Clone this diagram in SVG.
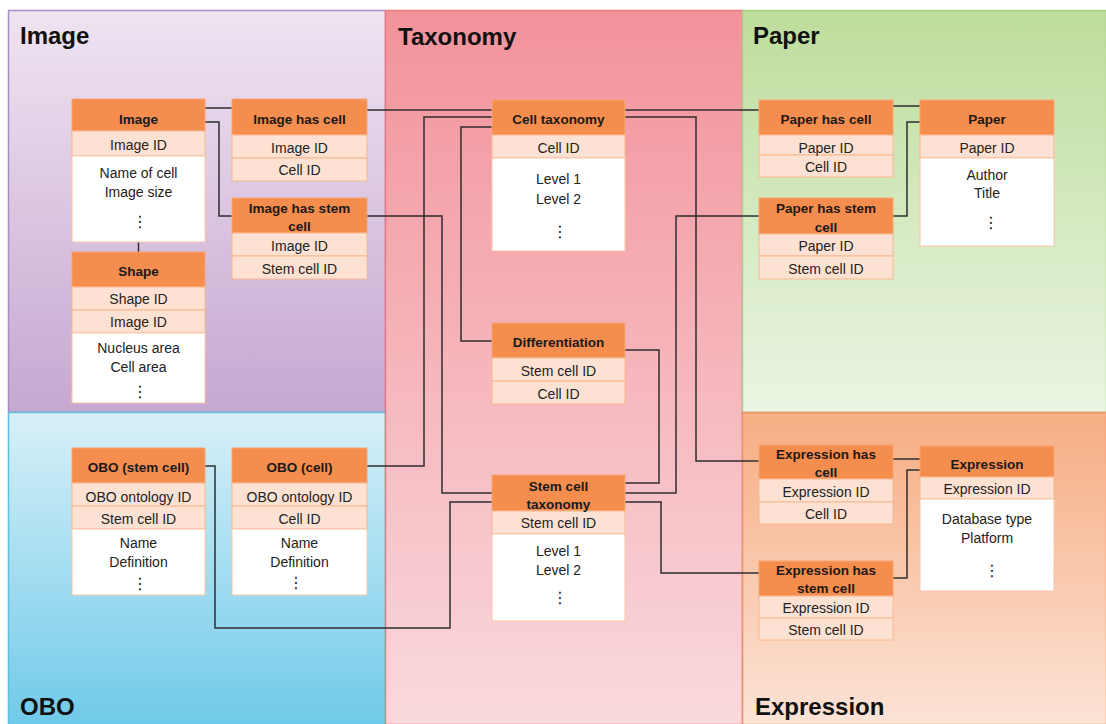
<svg xmlns="http://www.w3.org/2000/svg" width="1106" height="724" viewBox="0 0 1106 724">
<defs>
<linearGradient id="gImg" x1="0" y1="0" x2="0" y2="1"><stop offset="0" stop-color="#efe4f2"/><stop offset="1" stop-color="#c6a7d1"/></linearGradient>
<linearGradient id="gObo" x1="0" y1="0" x2="0" y2="1"><stop offset="0" stop-color="#d8f0f8"/><stop offset="1" stop-color="#70cae9"/></linearGradient>
<linearGradient id="gTax" x1="0" y1="0" x2="0" y2="1"><stop offset="0" stop-color="#f3929b"/><stop offset="1" stop-color="#f9d9dd"/></linearGradient>
<linearGradient id="gPap" x1="0" y1="0" x2="0" y2="1"><stop offset="0" stop-color="#bddd9b"/><stop offset="1" stop-color="#ebf5e4"/></linearGradient>
<linearGradient id="gExp" x1="0" y1="0" x2="0" y2="1"><stop offset="0" stop-color="#f6ad82"/><stop offset="1" stop-color="#fce3d6"/></linearGradient>
</defs>
<style>
.title{font-family:"Liberation Sans",Arial,sans-serif;font-weight:bold;font-size:24px;fill:#111}
.hd{fill:#f48d4e;stroke:#f7a572;stroke-width:1}
.fd{fill:#fde2d3;stroke:#f8b88e;stroke-width:1}
.bd{fill:#ffffff;stroke:#f9c6a6;stroke-width:1}
.ht{font-family:"Liberation Sans",Arial,sans-serif;font-weight:bold;font-size:13.5px;fill:#1a1a1a;text-anchor:middle}
.ft{font-family:"Liberation Sans",Arial,sans-serif;font-size:14px;fill:#222;text-anchor:middle}
.dt{font-family:"DejaVu Sans",sans-serif;font-size:16px;fill:#222;text-anchor:middle}
.cn{fill:none;stroke:#2e2e2e;stroke-width:1.5}
</style>
<rect x="0" y="0" width="1106" height="724" fill="#ffffff"/>
<g id="regions">
<rect x="8.5" y="10.5" width="377" height="402" fill="url(#gImg)" stroke="#a98bc6" stroke-width="1.5"/>
<rect x="8.5" y="412.5" width="377" height="312" fill="url(#gObo)" stroke="#5fbfe0" stroke-width="1.5"/>
<rect x="385.5" y="10.5" width="357" height="714" fill="url(#gTax)" stroke="#ea7a80" stroke-width="1.5"/>
<rect x="742.5" y="10.5" width="364" height="402" fill="url(#gPap)" stroke="#a9d08a" stroke-width="1.5"/>
<rect x="742.5" y="412.5" width="364" height="312" fill="url(#gExp)" stroke="#ef9068" stroke-width="1.5"/>
<text class="title" x="20" y="44">Image</text>
<text class="title" x="398" y="45">Taxonomy</text>
<text class="title" x="753" y="44">Paper</text>
<text class="title" x="20" y="715">OBO</text>
<text class="title" x="755" y="715">Expression</text>
</g>
<g id="connectors">
<path class="cn" d="M205,108 H232"/>
<path class="cn" d="M205,122 H219 V216 H232"/>
<path class="cn" d="M138.5,242 V252"/>
<path class="cn" d="M367,110 H492"/>
<path class="cn" d="M625,110 H760"/>
<path class="cn" d="M367,466 H424 V117 H492"/>
<path class="cn" d="M492,127 H461 V341 H492"/>
<path class="cn" d="M367,216 H442 V493 H492"/>
<path class="cn" d="M205,466 H215 V628 H450 V502 H492"/>
<path class="cn" d="M625,117 H696 V461 H760"/>
<path class="cn" d="M625,493 H676 V216 H760"/>
<path class="cn" d="M625,350 H659 V483 H625"/>
<path class="cn" d="M625,502 H661 V573 H760"/>
<path class="cn" d="M893,106 H920"/>
<path class="cn" d="M893,216 H907 V122 H920"/>
<path class="cn" d="M893,459 H920"/>
<path class="cn" d="M893,578 H907 V470 H920"/>
</g>
<g id="node-image">
<rect class="hd" x="72" y="99" width="133" height="32"/>
<rect class="fd" x="72" y="131" width="133" height="25"/>
<rect class="bd" x="72" y="156" width="133" height="86"/>
<text class="ht" x="138.5" y="124">Image</text>
<text class="ft" x="138.5" y="150">Image ID</text>
<text class="ft" x="138.5" y="178">Name of cell</text>
<text class="ft" x="138.5" y="197">Image size</text>
<text class="dt" x="140" y="227">⋮</text>
</g>
<g id="node-shape">
<rect class="hd" x="72" y="252" width="133" height="35"/>
<rect class="fd" x="72" y="287" width="133" height="23"/>
<rect class="fd" x="72" y="310" width="133" height="23"/>
<rect class="bd" x="72" y="333" width="133" height="70"/>
<text class="ht" x="138.5" y="276">Shape</text>
<text class="ft" x="138.5" y="304">Shape ID</text>
<text class="ft" x="138.5" y="327">Image ID</text>
<text class="ft" x="138.5" y="353">Nucleus area</text>
<text class="ft" x="138.5" y="372">Cell area</text>
<text class="dt" x="140" y="397">⋮</text>
</g>
<g id="node-image-has-cell">
<rect class="hd" x="232" y="99" width="135" height="36"/>
<rect class="fd" x="232" y="135" width="135" height="23"/>
<rect class="fd" x="232" y="158" width="135" height="23"/>
<text class="ht" x="299.5" y="124">Image has cell</text>
<text class="ft" x="299.5" y="153">Image ID</text>
<text class="ft" x="299.5" y="175">Cell ID</text>
</g>
<g id="node-image-has-stem-cell">
<rect class="hd" x="232" y="198" width="135" height="35"/>
<rect class="fd" x="232" y="233" width="135" height="23"/>
<rect class="fd" x="232" y="256" width="135" height="23"/>
<text class="ht" x="299.5" y="213">Image has stem</text>
<text class="ht" x="299.5" y="231">cell</text>
<text class="ft" x="299.5" y="251">Image ID</text>
<text class="ft" x="299.5" y="274">Stem cell ID</text>
</g>
<g id="node-cell-taxonomy">
<rect class="hd" x="492" y="100" width="133" height="35"/>
<rect class="fd" x="492" y="135" width="133" height="23"/>
<rect class="bd" x="492" y="158" width="133" height="93"/>
<text class="ht" x="558.5" y="124">Cell taxonomy</text>
<text class="ft" x="558.5" y="153">Cell ID</text>
<text class="ft" x="558.5" y="184">Level 1</text>
<text class="ft" x="558.5" y="204">Level 2</text>
<text class="dt" x="560" y="237">⋮</text>
</g>
<g id="node-differentiation">
<rect class="hd" x="492" y="323" width="133" height="35"/>
<rect class="fd" x="492" y="358" width="133" height="23"/>
<rect class="fd" x="492" y="381" width="133" height="23"/>
<text class="ht" x="558.5" y="347">Differentiation</text>
<text class="ft" x="558.5" y="376">Stem cell ID</text>
<text class="ft" x="558.5" y="399">Cell ID</text>
</g>
<g id="node-stem-cell-taxonomy">
<rect class="hd" x="492" y="475" width="133" height="36"/>
<rect class="fd" x="492" y="511" width="133" height="23"/>
<rect class="bd" x="492" y="534" width="133" height="87"/>
<text class="ht" x="558.5" y="491">Stem cell</text>
<text class="ht" x="558.5" y="509">taxonomy</text>
<text class="ft" x="558.5" y="528">Stem cell ID</text>
<text class="ft" x="558.5" y="556">Level 1</text>
<text class="ft" x="558.5" y="575">Level 2</text>
<text class="dt" x="560" y="603">⋮</text>
</g>
<g id="node-paper-has-cell">
<rect class="hd" x="759" y="100" width="134" height="35"/>
<rect class="fd" x="759" y="135" width="134" height="20"/>
<rect class="fd" x="759" y="155" width="134" height="22"/>
<text class="ht" x="826" y="124">Paper has cell</text>
<text class="ft" x="826" y="153">Paper ID</text>
<text class="ft" x="826" y="172">Cell ID</text>
</g>
<g id="node-paper-has-stem-cell">
<rect class="hd" x="759" y="198" width="134" height="36"/>
<rect class="fd" x="759" y="234" width="134" height="22"/>
<rect class="fd" x="759" y="256" width="134" height="23"/>
<text class="ht" x="826" y="213">Paper has stem</text>
<text class="ht" x="826" y="232">cell</text>
<text class="ft" x="826" y="251">Paper ID</text>
<text class="ft" x="826" y="274">Stem cell ID</text>
</g>
<g id="node-paper">
<rect class="hd" x="920" y="100" width="134" height="35"/>
<rect class="fd" x="920" y="135" width="134" height="23"/>
<rect class="bd" x="920" y="158" width="134" height="88"/>
<text class="ht" x="987" y="124">Paper</text>
<text class="ft" x="987" y="153">Paper ID</text>
<text class="ft" x="987" y="180">Author</text>
<text class="ft" x="987" y="198">Title</text>
<text class="dt" x="991" y="228">⋮</text>
</g>
<g id="node-obo-stem-cell">
<rect class="hd" x="72" y="448" width="133" height="35"/>
<rect class="fd" x="72" y="483" width="133" height="23"/>
<rect class="fd" x="72" y="506" width="133" height="23"/>
<rect class="bd" x="72" y="529" width="133" height="66"/>
<text class="ht" x="138.5" y="472">OBO (stem cell)</text>
<text class="ft" x="138.5" y="502">OBO ontology ID</text>
<text class="ft" x="138.5" y="524">Stem cell ID</text>
<text class="ft" x="138.5" y="548">Name</text>
<text class="ft" x="138.5" y="567">Definition</text>
<text class="dt" x="140" y="589">⋮</text>
</g>
<g id="node-obo-cell">
<rect class="hd" x="232" y="448" width="135" height="35"/>
<rect class="fd" x="232" y="483" width="135" height="23"/>
<rect class="fd" x="232" y="506" width="135" height="23"/>
<rect class="bd" x="232" y="529" width="135" height="66"/>
<text class="ht" x="299.5" y="472">OBO (cell)</text>
<text class="ft" x="299.5" y="502">OBO ontology ID</text>
<text class="ft" x="299.5" y="524">Cell ID</text>
<text class="ft" x="299.5" y="548">Name</text>
<text class="ft" x="299.5" y="567">Definition</text>
<text class="dt" x="296" y="588">⋮</text>
</g>
<g id="node-expression-has-cell">
<rect class="hd" x="759" y="445" width="134" height="34"/>
<rect class="fd" x="759" y="479" width="134" height="23"/>
<rect class="fd" x="759" y="502" width="134" height="22"/>
<text class="ht" x="826" y="459">Expression has</text>
<text class="ht" x="826" y="477">cell</text>
<text class="ft" x="826" y="497">Expression ID</text>
<text class="ft" x="826" y="519">Cell ID</text>
</g>
<g id="node-expression-has-stem-cell">
<rect class="hd" x="759" y="561" width="134" height="35"/>
<rect class="fd" x="759" y="596" width="134" height="22"/>
<rect class="fd" x="759" y="618" width="134" height="22"/>
<text class="ht" x="826" y="575">Expression has</text>
<text class="ht" x="826" y="593">stem cell</text>
<text class="ft" x="826" y="613">Expression ID</text>
<text class="ft" x="826" y="635">Stem cell ID</text>
</g>
<g id="node-expression">
<rect class="hd" x="920" y="446" width="134" height="31"/>
<rect class="fd" x="920" y="477" width="134" height="22"/>
<rect class="bd" x="920" y="499" width="134" height="92"/>
<text class="ht" x="987" y="469">Expression</text>
<text class="ft" x="987" y="494">Expression ID</text>
<text class="ft" x="987" y="524">Database type</text>
<text class="ft" x="987" y="543">Platform</text>
<text class="dt" x="992" y="576">⋮</text>
</g>
</svg>
